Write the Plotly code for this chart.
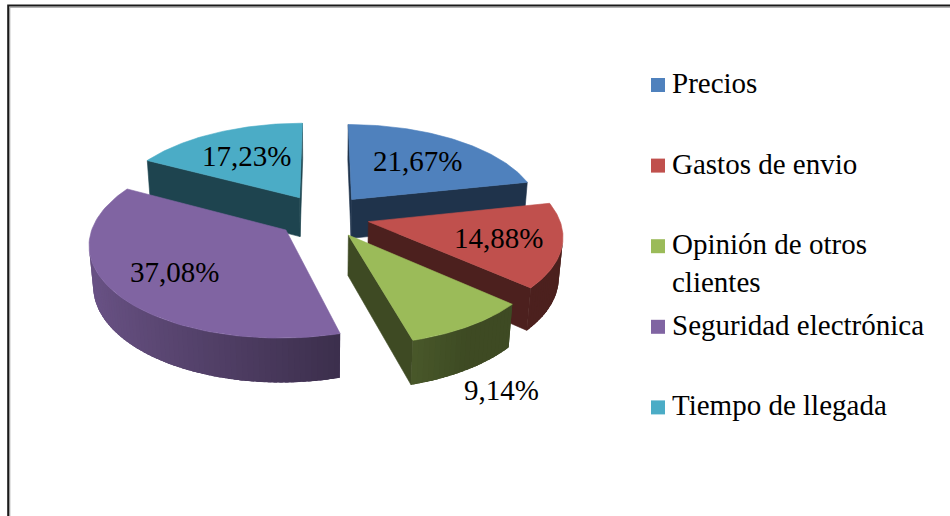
import numpy as np
import plotly.graph_objects as go

# ---- data -------------------------------------------------------------
categories = [
    "Precios",
    "Gastos de envio",
    "Opinión de otros clientes",
    "Seguridad electrónica",
    "Tiempo de llegada",
]
legend_text = [
    "Precios",
    "Gastos de envio",
    "Opinión de otros<br>clientes",
    "Seguridad electrónica",
    "Tiempo de llegada",
]
shares = [21.67, 14.88, 9.14, 37.08, 17.23]
colors = ["#4F81BD", "#C0504D", "#9BBB59", "#8064A2", "#4BACC6"]

# ---- 3D view of the exploded pie (unit radius) ------------------------
ELEV = np.radians(28.0)     # tilt of the pie plane
DIST = 6.5                  # camera distance, in pie radii
FOCAL = 1236.0              # projection scale, px
CX, CY = 323.0, 216.0       # where the pie centre lands on the canvas
THICK = 0.24                # disc thickness, in pie radii
EXPLODE = 0.245             # radial offset of every slice
SIN_E, COS_E = np.sin(ELEV), np.cos(ELEV)
CAM = np.array([0.0, -DIST * COS_E, DIST * SIN_E])

FONT = "Liberation Serif"
FSIZE = 29


def project(X, Y, Z):
    X, Y, Z = np.asarray(X, float), np.asarray(Y, float), np.asarray(Z, float)
    up = Y * SIN_E + Z * COS_E
    depth = DIST + Y * COS_E - Z * SIN_E
    return CX + FOCAL * X / depth, CY - FOCAL * up / depth


def shade(hex_color, f):
    h = hex_color.lstrip("#")
    r, g, b = (int(h[i:i + 2], 16) for i in (0, 2, 4))
    return "rgb({},{},{})".format(int(r * f), int(g * f), int(b * f))


def facing(normal, point):
    return float(np.dot(normal, CAM - point)) > 0


fig = go.Figure()


def face(xs, ys, color, edge=0.6):
    fig.add_trace(go.Scatter(
        x=list(xs) + [xs[0]], y=list(ys) + [ys[0]],
        mode="lines", fill="toself", fillcolor=color,
        line=dict(color=color, width=edge),
        hoverinfo="skip", showlegend=False,
    ))


def wall_shade(t):
    return max(0.40, 0.55 + 0.29 * (-np.sin(t)))


# slice angles, clockwise from 12 o'clock
total = float(sum(shares))
bounds = np.concatenate([[0.0], np.cumsum(shares) / total * 2 * np.pi])
slices = []
for i, v in enumerate(shares):
    a1, a2 = bounds[i], bounds[i + 1]
    mid = 0.5 * (a1 + a2)
    ox, oy = EXPLODE * np.sin(mid), EXPLODE * np.cos(mid)
    slices.append(dict(i=i, a1=a1, a2=a2, mid=mid, ox=ox, oy=oy))


def wall_quad(ox, oy, ta, tb):
    X = [ox + np.sin(ta), ox + np.sin(tb), ox + np.sin(tb), ox + np.sin(ta)]
    Y = [oy + np.cos(ta), oy + np.cos(tb), oy + np.cos(tb), oy + np.cos(ta)]
    Z = [0, 0, -THICK, -THICK]
    return project(X, Y, Z)


# paint from the back of the pie towards the viewer
for sl in sorted(slices, key=lambda s: -np.cos(s["mid"])):
    i, a1, a2, ox, oy = sl["i"], sl["a1"], sl["a2"], sl["ox"], sl["oy"]
    base = colors[i]

    # radial cut faces
    for ang, sgn in ((a1, -1), (a2, 1)):
        n = np.array([np.sin(ang + sgn * np.pi / 2), np.cos(ang + sgn * np.pi / 2), 0.0])
        p = np.array([ox + 0.5 * np.sin(ang), oy + 0.5 * np.cos(ang), -THICK / 2])
        if facing(n, p):
            X = [ox, ox + np.sin(ang), ox + np.sin(ang), ox]
            Y = [oy, oy + np.cos(ang), oy + np.cos(ang), oy]
            Z = [0, 0, -THICK, -THICK]
            sx, sy = project(X, Y, Z)
            face(sx, sy, shade(base, 0.40))

    # curved outer wall: the visible arc range first as one piece,
    # then overlapping thin strips carrying the shading
    fine = np.linspace(a1, a2, 400)
    vis = [t for t in fine
           if facing(np.array([np.sin(t), np.cos(t), 0.0]),
                     np.array([ox + np.sin(t), oy + np.cos(t), -THICK / 2]))]
    if len(vis) > 1:
        v0, v1 = vis[0], vis[-1]
        arc = np.linspace(v0, v1, 120)
        X = np.concatenate([ox + np.sin(arc), ox + np.sin(arc[::-1])])
        Y = np.concatenate([oy + np.cos(arc), oy + np.cos(arc[::-1])])
        Z = np.concatenate([np.zeros(len(arc)), -THICK * np.ones(len(arc))])
        sx, sy = project(X, Y, Z)
        face(sx, sy, shade(base, wall_shade(0.5 * (v0 + v1))), edge=0)
        nseg = max(4, int(np.degrees(v1 - v0) / 1.5))
        edges = np.linspace(v0, v1, nseg + 1)
        step = edges[1] - edges[0]
        for ta, tb in zip(edges[:-1], edges[1:]):
            tb2 = min(v1, tb + 0.6 * step)
            sx, sy = wall_quad(ox, oy, ta, tb2)
            face(sx, sy, shade(base, wall_shade(0.5 * (ta + tb))), edge=0)

    # top face
    arc = np.linspace(a1, a2, 80)
    X = np.concatenate([[ox], ox + np.sin(arc)])
    Y = np.concatenate([[oy], oy + np.cos(arc)])
    sx, sy = project(X, Y, np.zeros_like(X))
    face(sx, sy, base)

# percentage labels
annotations = []
for sl in slices:
    v = shares[sl["i"]]
    text = "{:.2f}".format(v).replace(".", ",") + "%"
    if v < 10:
        r, z = 1.25, -0.83 * THICK   # small slice: label sits outside, below the wall
    elif np.cos(sl["mid"]) < 0:
        r, z = 0.68, 0.0             # front slices
    else:
        r, z = 0.62, 0.0             # back slices
    lx, ly = project(sl["ox"] + r * np.sin(sl["mid"]), sl["oy"] + r * np.cos(sl["mid"]), z)
    annotations.append(dict(
        x=float(lx), y=float(ly), xref="x", yref="y", text=text, showarrow=False,
        xanchor="center", yanchor="middle",
        font=dict(family=FONT, size=FSIZE, color="#000000"),
    ))

# legend on the right
shapes = []
LEG_X, LEG_Y0, LEG_STEP, SQ = 651, 85, 80.6, 14
for k, name in enumerate(legend_text):
    yc = LEG_Y0 + k * LEG_STEP
    shapes.append(dict(type="rect", xref="x", yref="y",
                       x0=LEG_X, x1=LEG_X + SQ, y0=yc - SQ / 2, y1=yc + SQ / 2,
                       fillcolor=colors[k], line=dict(width=0), layer="above"))
    annotations.append(dict(
        x=LEG_X + SQ + 5, y=yc - 20, xref="x", yref="y", text=name, showarrow=False,
        xanchor="left", yanchor="top", align="left",
        font=dict(family=FONT, size=FSIZE, color="#000000"),
    ))

# chart frame
shapes.append(dict(type="rect", xref="x", yref="y", x0=9.8, y0=7.3, x1=990, y1=560,
                   line=dict(color="#a0a0a0", width=1), fillcolor="rgba(0,0,0,0)", layer="above"))
shapes.append(dict(type="rect", xref="x", yref="y", x0=8.2, y0=5.4, x1=990, y1=560,
                   line=dict(color="#1a1a1a", width=2), fillcolor="rgba(0,0,0,0)", layer="above"))

fig.update_layout(
    width=950, height=516, autosize=False,
    margin=dict(l=0, r=0, t=0, b=0, pad=0),
    paper_bgcolor="white", plot_bgcolor="white",
    font=dict(family=FONT, size=FSIZE, color="#000000"),
    xaxis=dict(range=[0, 950], visible=False, fixedrange=True),
    yaxis=dict(range=[516, 0], visible=False, fixedrange=True),
    showlegend=False,
    shapes=shapes,
    annotations=annotations,
)

fig.write_html("out.html")
